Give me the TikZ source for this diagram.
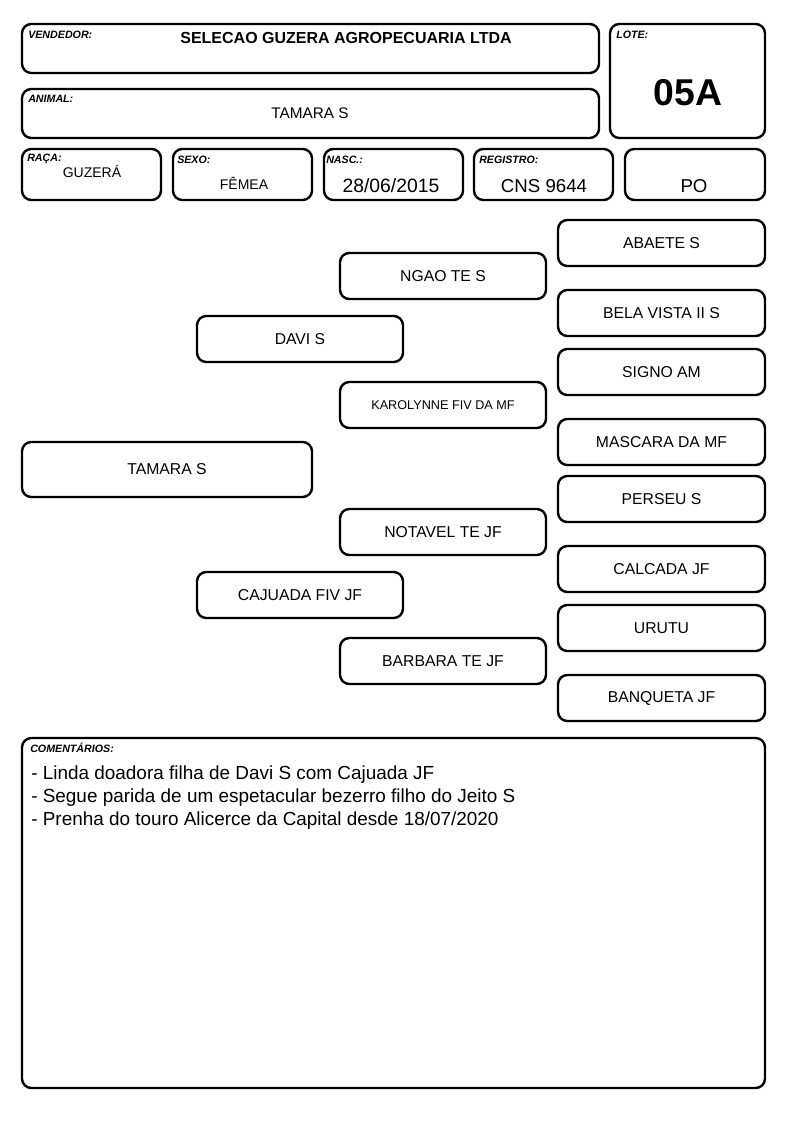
\documentclass[tikz,border=0pt]{standalone}
\usepackage{fontspec}
\setmainfont{Liberation Sans}
\usepackage{tikz}
\usetikzlibrary{positioning}
\tikzset{
    cardbox/.style={draw, line width=1.8pt, rounded corners=7pt, inner sep=0pt},
    pedbox/.style={cardbox, minimum width=154.5pt, minimum height=34.5pt, font=\fontsize{11.8}{13}\selectfont},
    tagtext/.style={anchor=base west, inner sep=0pt, font=\fontsize{8}{9}\selectfont\bfseries\itshape},
    valtext/.style={anchor=base, inner sep=0pt}
}

\begin{document}
\begin{tikzpicture}[x=0.75pt, y=-0.75pt]
    \useasboundingbox (0,0) rectangle (794,1123);

    % header
    \node[cardbox, minimum width=432.75pt, minimum height=36.75pt] (vendor) at (310.5,48.5) {};
    \node[cardbox, minimum width=116.25pt, minimum height=85.5pt] (lot) at (687.5,81) {};
    \node[cardbox, minimum width=432.75pt, minimum height=36.75pt] (animal) at (310.5,113.5) {};
    \node[cardbox, minimum width=104.25pt, minimum height=38.25pt] (breed) at (91.5,174.5) {};
    \node[cardbox, minimum width=104.25pt, minimum height=38.25pt] (sex) at (242.5,174.5) {};
    \node[cardbox, minimum width=104.25pt, minimum height=38.25pt] (birth) at (393.5,174.5) {};
    \node[cardbox, minimum width=104.25pt, minimum height=38.25pt] (reg) at (543.5,174.5) {};
    \node[cardbox, minimum width=105pt, minimum height=38.25pt] (kind) at (695,174.5) {};

    \node[tagtext] (vendortag) at (28,39) {VENDEDOR:};
    \node[tagtext] (lottag) at (616,39) {LOTE:};
    \node[tagtext] (animaltag) at (28,103) {ANIMAL:};
    \node[tagtext] (breedtag) at (27,162) {RAÇA:};
    \node[tagtext] (sextag) at (177,164) {SEXO:};
    \node[tagtext] (birthtag) at (326,164) {NASC.:};
    \node[tagtext] (regtag) at (479,164) {REGISTRO:};

    \node[valtext, font=\fontsize{12}{13}\selectfont\bfseries] (vendorname) at (346,43.5) {SELECAO GUZERA AGROPECUARIA LTDA};
    \node[valtext, font=\fontsize{28}{30}\selectfont\bfseries] (lotno) at (688,105.5) {05A};
    \node[valtext, font=\fontsize{11.5}{13}\selectfont] (animalname) at (310,118.5) {TAMARA S};
    \node[valtext, font=\fontsize{10.5}{12}\selectfont] (breedval) at (92,178) {GUZERÁ};
    \node[valtext, font=\fontsize{10.5}{12}\selectfont] (sexval) at (244,190) {FÊMEA};
    \node[valtext, font=\fontsize{14.5}{16}\selectfont] (birthval) at (391,193) {28/06/2015};
    \node[valtext, font=\fontsize{14}{16}\selectfont] (regval) at (544,193) {CNS 9644};
    \node[valtext, font=\fontsize{14}{16}\selectfont] (kindval) at (694,193) {PO};

    % pedigree
    \node[pedbox, minimum width=217.5pt, minimum height=41.25pt] (self) at (167,469.5) {TAMARA S};
    \node[pedbox] (sire) at (300,339) {DAVI S};
    \node[pedbox] (dam) at (300,595) {CAJUADA FIV JF};
    \node[pedbox] (ss) at (443,276) {NGAO TE S};
    \node[pedbox, font=\fontsize{9.5}{11}\selectfont] (sd) at (443,405) {KAROLYNNE FIV DA MF};
    \node[pedbox] (ds) at (443,532) {NOTAVEL TE JF};
    \node[pedbox] (dd) at (443,661) {BARBARA TE JF};
    \node[pedbox, minimum width=155.25pt] (sss) at (661.5,243) {ABAETE S};
    \node[pedbox, minimum width=155.25pt] (ssd) at (661.5,313) {BELA VISTA II S};
    \node[pedbox, minimum width=155.25pt] (sds) at (661.5,372) {SIGNO AM};
    \node[pedbox, minimum width=155.25pt] (sdd) at (661.5,442) {MASCARA DA MF};
    \node[pedbox, minimum width=155.25pt] (dss) at (661.5,499) {PERSEU S};
    \node[pedbox, minimum width=155.25pt] (dsd) at (661.5,569) {CALCADA JF};
    \node[pedbox, minimum width=155.25pt] (dds) at (661.5,628) {URUTU};
    \node[pedbox, minimum width=155.25pt] (ddd) at (661.5,698) {BANQUETA JF};

    % comments
    \node[cardbox, minimum width=557.25pt, minimum height=262.5pt] (notes) at (393.5,913) {};
    \node[tagtext] (notestag) at (30,752) {COMENTÁRIOS:};
    \node[anchor=north west, inner sep=0pt, align=left, font=\fontsize{14.2}{17}\selectfont] (notestext) at (31,766)
        {- Linda doadora filha de Davi S com Cajuada JF\\
         - Segue parida de um espetacular bezerro filho do Jeito S\\
         - Prenha do touro Alicerce da Capital desde 18/07/2020};
\end{tikzpicture}
\end{document}
